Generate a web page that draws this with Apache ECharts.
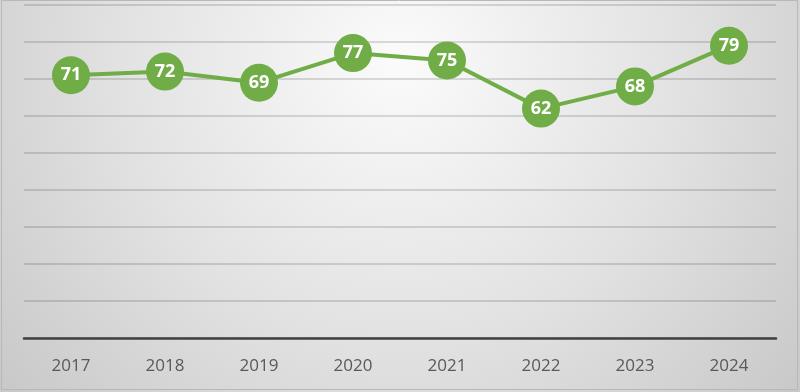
<!DOCTYPE html>
<html><head><meta charset="utf-8">
<script src="https://cdn.jsdelivr.net/npm/echarts@6/dist/echarts.min.js"></script>
<style>html,body{margin:0;padding:0;}#c{width:800px;height:392px;}</style>
</head><body><div id="c"></div>
<script>
const categories = ['2017','2018','2019','2020','2021','2022','2023','2024'];
const values = [71, 72, 69, 77, 75, 62, 68, 79];
const chart = echarts.init(document.getElementById('c'), null, {renderer:'canvas'});
chart.setOption({
  animation: false,
  graphic: [
    {type:'rect', z:-10, silent:true, shape:{x:0,y:0,width:800,height:392},
     style:{fill:new echarts.graphic.RadialGradient(400,60,560,[{offset:0,color:'#fbfbfb'},{offset:0.5,color:'#e2e2e2'},{offset:1,color:'#c4c4c4'}], true)}},
    {type:'rect', z:-9, silent:true, shape:{x:1.5,y:0.5,width:796,height:389}, style:{fill:null, stroke:'#b8b8b8', lineWidth:1}}
  ],
  grid: {left:24, right:24, top:5, bottom:54, containLabel:false},
  xAxis: {type:'category', data:categories, boundaryGap:true,
    axisLine:{lineStyle:{color:'#404040', width:2.5}},
    axisTick:{show:false},
    axisLabel:{color:'#595959', fontSize:17, fontFamily:'Open Sans', margin:20}},
  yAxis: {type:'value', min:0, max:90, interval:10,
    axisLabel:{show:false}, axisLine:{show:false}, axisTick:{show:false},
    splitLine:{lineStyle:{color:'rgba(0,0,0,0.18)', width:1.5}}},
  series: [{type:'line', data:values, symbol:'circle', symbolSize:38,
    lineStyle:{color:'#70ad47', width:4},
    itemStyle:{color:'#70ad47'},
    label:{show:true, position:'inside', color:'#ffffff', fontSize:18, fontWeight:'bold', fontFamily:'Open Sans'}}]
});
</script></body></html>
